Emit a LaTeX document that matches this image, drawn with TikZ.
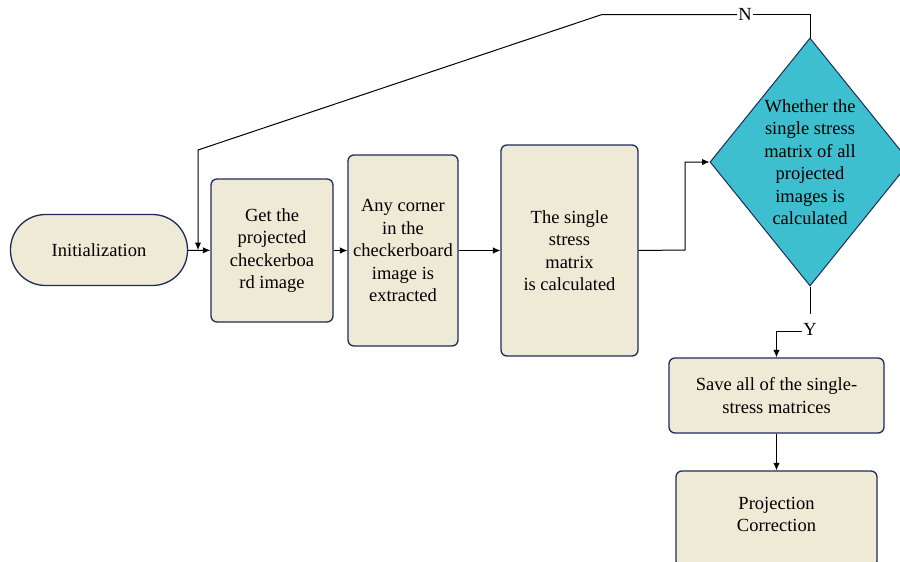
\documentclass[tikz,border=0pt]{standalone}
\usepackage{fontspec}
\setmainfont{Liberation Serif}
\usetikzlibrary{shapes.geometric,arrows.meta}
\definecolor{cream}{HTML}{EFEAD5}
\definecolor{navy}{HTML}{1F2A5A}
\definecolor{teal}{HTML}{3DBFD0}
\begin{document}
\begin{tikzpicture}[x=1pt,y=-1pt,
  every node/.style={font=\fontsize{18.5}{22.5}\selectfont, align=center, text=black},
  stepbox/.style={draw=navy, line width=1.3pt, fill=cream, rounded corners=6pt, inner sep=0pt},
  decision/.style={draw=navy, line width=1pt, fill=teal, diamond, inner sep=0pt},
  flow/.style={line width=1pt, draw=black, -{Latex[length=7.5pt,width=6.5pt]}},
  link/.style={line width=1pt, draw=black}]
\useasboundingbox (0,0) rectangle (900,562);
% process boxes
\node[stepbox, rounded corners=35pt, minimum width=177pt, minimum height=71pt] (init) at (99,250) {Initialization};
\node[stepbox, minimum width=122pt, minimum height=143pt] (get) at (272,250.5) {Get the\\projected\\checkerboa\\rd image};
\node[stepbox, minimum width=110pt, minimum height=191pt] (corner) at (403,250.5) {Any corner\\in the\\checkerboard\\image is\\extracted};
\node[stepbox, minimum width=137pt, minimum height=211pt] (calc) at (569.5,250.5) {The single\\stress\\matrix\\is calculated};
\node[decision, minimum width=200pt, minimum height=248pt] (dec) at (810,162) {};
\node (dectext) at (dec.center) {Whether the\\single stress\\matrix of all\\projected\\images is\\calculated};
\node[stepbox, minimum width=215pt, minimum height=75pt] (save) at (776.5,395.5) {Save all of the single-\\stress matrices};
\node[stepbox, minimum width=201pt, minimum height=96pt] (proj) at (776.5,519) {};
\node (projtext) at (776.5,514.5) {Projection\\Correction};
% branch labels
\node[inner sep=1pt] (nlab) at (745,14.5) {N};
\node[inner sep=1pt] (ylab) at (810,329) {Y};
\coordinate (fb) at (198,250);
% main flow
\draw[flow] (init) -- (get);
\draw[flow] (get) -- (corner);
\draw[flow] (corner) -- (calc);
\draw[flow] (calc.east) -- (685,250) -- (685,162) -- (dec.west);
\draw[flow] (save) -- (proj);
% "no" branch back to the start
\draw[link] (dec.north) -- (810,14.5) -- (nlab.east);
\draw[flow] (nlab.west) -- (602,14.5) -- (198,150) -- (fb);
% "yes" branch
\draw[link] (dec.south) -- (810,314);
\draw[flow] (ylab.west |- 0,331.5) -- (776.5,331.5) -- (save.north -| 776.5,0);
\end{tikzpicture}
\end{document}
